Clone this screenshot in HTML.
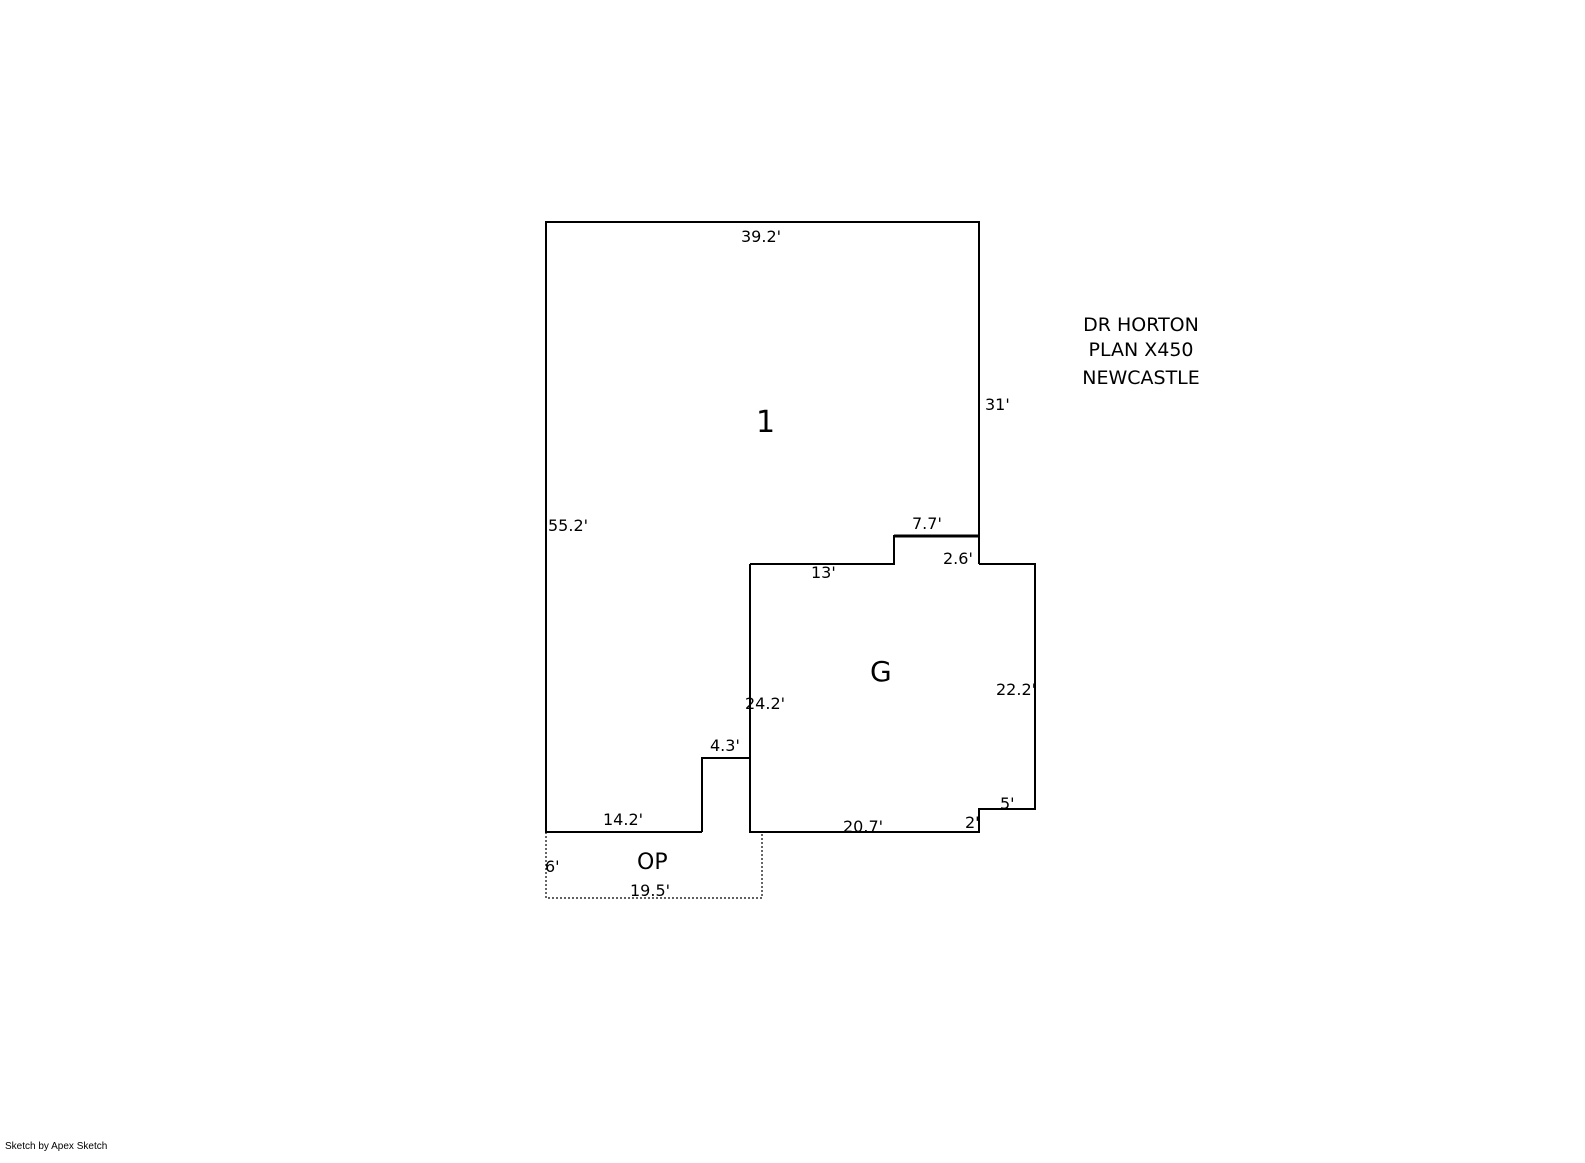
<!DOCTYPE html>
<html><head><style>
html,body{margin:0;padding:0;background:#fff}
svg{display:block}
text{font-family:"DejaVu Sans","Liberation Sans",sans-serif;fill:#000}
</style></head><body>
<svg width="1585" height="1163" viewBox="0 0 1585 1163" xmlns="http://www.w3.org/2000/svg">
<g fill="none" stroke="#000" stroke-width="2">
<polyline points="702,832 546,832 546,222 979,222 979,564"/>
<polyline points="702,832 702,758 750,758"/>
<polyline points="750,564 894,564 894,536 979,536" />
<line x1="894" y1="536" x2="979" y2="536" stroke-width="3"/>
<polyline points="750,564 750,832 979,832 979,809 1035,809 1035,564 979,564"/>
<polyline points="546,832 546,898 762,898 762,832" stroke-width="1.2" stroke-dasharray="2,2"/>
</g>
<g font-size="16">
<text x="741" y="242">39.2'</text>
<text x="985" y="410">31'</text>
<text x="548" y="531">55.2'</text>
<text x="912" y="529">7.7'</text>
<text x="943" y="564">2.6'</text>
<text x="811" y="578">13'</text>
<text x="996" y="695">22.2'</text>
<text x="745" y="709">24.2'</text>
<text x="710" y="751">4.3'</text>
<text x="1000" y="809">5'</text>
<text x="965" y="828">2'</text>
<text x="603" y="825">14.2'</text>
<text x="843" y="832">20.7'</text>
<text x="545" y="872">6'</text>
<text x="630" y="896">19.5'</text>
</g>
<text x="756" y="432" font-size="30">1</text>
<text x="870" y="681" font-size="28">G</text>
<text x="637" y="869" font-size="22">OP</text>
<g font-size="19" text-anchor="middle">
<text x="1141" y="331">DR HORTON</text>
<text x="1141" y="356">PLAN X450</text>
<text x="1141" y="384">NEWCASTLE</text>
</g>
<text x="5" y="1149" font-size="10" style="font-family:'Liberation Sans',sans-serif">Sketch by Apex Sketch</text>
</svg>
</body></html>
